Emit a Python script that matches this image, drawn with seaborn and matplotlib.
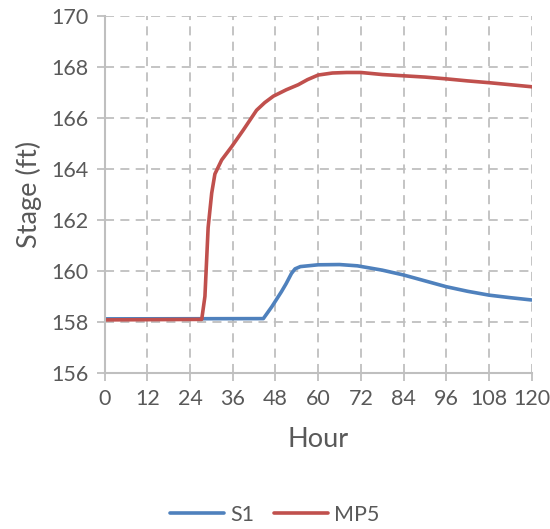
import matplotlib
matplotlib.use("Agg")
import matplotlib.pyplot as plt
import seaborn as sns
import pandas as pd

# Stage hydrographs at two gauges
s1_hour = [0, 44.6, 47, 49.7, 51, 52.5, 53.5, 55, 60, 66, 71, 78, 84, 90, 96, 102, 108, 114, 120]
s1_stage = [158.12, 158.13, 158.6, 159.19, 159.5, 159.9, 160.08, 160.17, 160.24, 160.25, 160.2,
            160.03, 159.84, 159.61, 159.38, 159.2, 159.05, 158.95, 158.86]

mp5_hour = [0, 27.3, 28.2, 29.1, 30.1, 31, 32.9, 35.7, 39, 42.7, 45, 47.4, 51, 54.4, 57, 60, 64,
            68, 72, 78, 84, 90, 96, 102, 108, 114, 120]
mp5_stage = [158.08, 158.1, 159.0, 161.7, 163.05, 163.8, 164.35, 164.87, 165.53, 166.3, 166.6,
             166.85, 167.1, 167.3, 167.5, 167.68, 167.76, 167.78, 167.78, 167.7, 167.65, 167.6,
             167.53, 167.45, 167.38, 167.3, 167.22]

series_names = ["S1", "MP5"]
series_colors = ["#4f81bd", "#c0504d"]
x_ticks = list(range(0, 121, 12))
y_ticks = list(range(156, 171, 2))

df = pd.concat([
    pd.DataFrame({"Hour": s1_hour, "Stage": s1_stage, "Series": "S1"}),
    pd.DataFrame({"Hour": mp5_hour, "Stage": mp5_stage, "Series": "MP5"}),
])

sns.set_theme(style="white")
plt.rcParams["font.family"] = ["Lato", "DejaVu Sans"]
text_color = "#595959"
grid_color = "#bfbfbf"

fig = plt.figure(figsize=(5.5, 5.29), dpi=100)
ax = fig.add_axes([0.19, 0.295, 0.777, 0.675])

sns.lineplot(data=df, x="Hour", y="Stage", hue="Series", hue_order=series_names,
             palette=series_colors, estimator=None, sort=False, linewidth=2.6, ax=ax)

ax.set_xlim(0, 120)
ax.set_ylim(156, 170)
ax.set_xticks(x_ticks)
ax.set_yticks(y_ticks)
ax.grid(True, color=grid_color, linestyle=(0, (5, 3.5)), linewidth=1.3)
ax.set_axisbelow(True)

for side in ["top", "right"]:
    ax.spines[side].set_visible(False)
for side in ["left", "bottom"]:
    ax.spines[side].set_color(grid_color)
    ax.spines[side].set_linewidth(1.5)

ax.tick_params(axis="both", which="major", direction="out", length=5.5, width=1.3,
               color=grid_color, labelcolor=text_color, labelsize=15.5, pad=6)
ax.xaxis.set_ticks_position("bottom")
ax.yaxis.set_ticks_position("left")

ax.set_xlabel("Hour", fontsize=19.5, color=text_color, labelpad=13)
ax.set_ylabel("Stage (ft)", fontsize=19.5, color=text_color, labelpad=7)

handles, labels = ax.get_legend_handles_labels()
ax.get_legend().remove()
fig.legend(handles, labels, loc="center", bbox_to_anchor=(0.5, 0.027), ncol=2,
           frameon=False, fontsize=15.5, handlelength=2.5, columnspacing=0.9,
           handletextpad=0.3, labelcolor=text_color)

fig.savefig("out.png", dpi=100)
